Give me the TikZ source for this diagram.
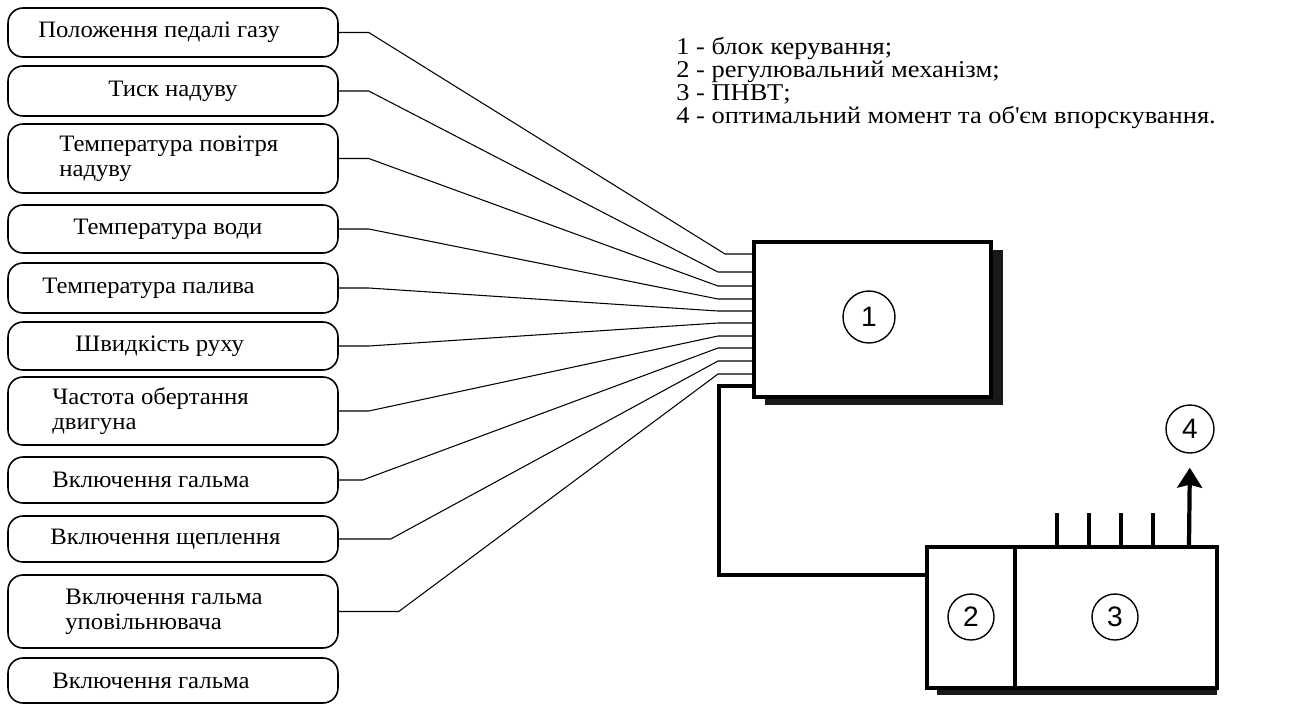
\documentclass[tikz,border=0pt]{standalone}
\usepackage{fontspec}
\setmainfont{Liberation Serif}
\newfontfamily\numfont{Liberation Sans}
\newfontfamily\boxfont[FakeStretch=1.05]{Liberation Serif}
\newfontfamily\legfont[FakeStretch=1.1]{Liberation Serif}
\usetikzlibrary{arrows.meta}

\begin{document}
\begin{tikzpicture}[x=0.02cm, y=-0.02cm,
    inbox/.style={draw=black, rounded corners=0.3cm, line width=0.9pt, minimum width=6.6cm},
    intext/.style={anchor=west, align=left, inner sep=0pt, font=\boxfont\fontsize{13.4}{14.2}\selectfont},
    wire/.style={line width=0.6pt},
    unit/.style={draw=black, fill=white, line width=2pt, inner sep=0pt},
    num/.style={circle, draw=black, line width=0.8pt, inner sep=0pt, font=\numfont\fontsize{16}{16}\selectfont},
    bus/.style={line width=2pt}]
    \useasboundingbox (0,0) rectangle (1309,704);

    % input signals
    \foreach \i/\yc/\h/\xt/\txt in {
        1/32.5/49/38/{Положення педалі газу},
        2/91/50/108/{Тиск надуву},
        3/158.5/69/59/{Температура повітря\\ надуву},
        4/229/48/73/{Температура води},
        5/288/50/42/{Температура палива},
        6/346/48/75/{Швидкість руху},
        7/411/68/52/{Частота обертання\\двигуна},
        8/480/46/52/{Включення гальма},
        9/539/46/50/{Включення щеплення},
        10/611.5/73/65/{Включення гальма\\уповільнювача},
        11/680.5/45/52/{Включення гальма}}
    {
        \node[inbox, minimum height=\h*0.02cm] (s\i) at (173,\yc) {};
        \node[intext] (t\i) at (\xt,\yc) {\txt};
    }

    % control unit
    \fill[black!90] (765,250) rectangle (1003,405);
    \node[unit, minimum width=237*0.02cm, minimum height=155*0.02cm] (blk) at (872.5,319.5) {};
    \node[num, minimum size=52*0.02cm] (n1) at (869,317) {1};

    \foreach \i/\bx/\kx/\y in {1/368/725/254, 2/368/718/272, 3/368/718/286, 4/368/718/299,
        5/368/718/311, 6/368/718/323, 7/368/718/336, 8/362/718/348, 9/390/718/361, 10/398/718/374}
        \draw[wire] (s\i.east) -- ++(\bx-338,0) -- (\kx,\y) -- (blk.west |- 0,\y);

    % actuator and pump
    \fill[black!90] (937,560) rectangle (1217,695);
    \node[unit, minimum width=88*0.02cm, minimum height=141*0.02cm] (reg) at (971,617.5) {};
    \node[unit, minimum width=202*0.02cm, minimum height=141*0.02cm] (pnvt) at (1116,617.5) {};
    \node[num, minimum size=46*0.02cm] (n2) at (971,617) {2};
    \node[num, minimum size=46*0.02cm] (n3) at (1115,617) {3};
    \node[num, minimum size=48*0.02cm] (n4) at (1190,429) {4};

    \draw[bus] (blk.west |- 0,386) -- (719,386) |- (reg.west |- 0,575);
    \foreach \x in {1057,1089,1121,1153}
        \draw[bus] (pnvt.north -| \x,0) -- ++(0,-32);
    \draw[line width=2.4pt, -{Stealth[length=0.4cm, width=0.5cm, inset=0.06cm]}, shorten >=0.28cm]
        (pnvt.north -| 1189,0) -- (n4.south);

    % legend
    \node[anchor=north west, align=left, inner sep=0pt, font=\legfont\fontsize{13.7}{13}\selectfont] (legend) at (676,37)
        {1 - блок керування;\\2 - регулювальний механізм;\\3 - ПНВТ;\\4 - оптимальний момент та об\textquotesingle єм впорскування.};

\end{tikzpicture}
\end{document}
